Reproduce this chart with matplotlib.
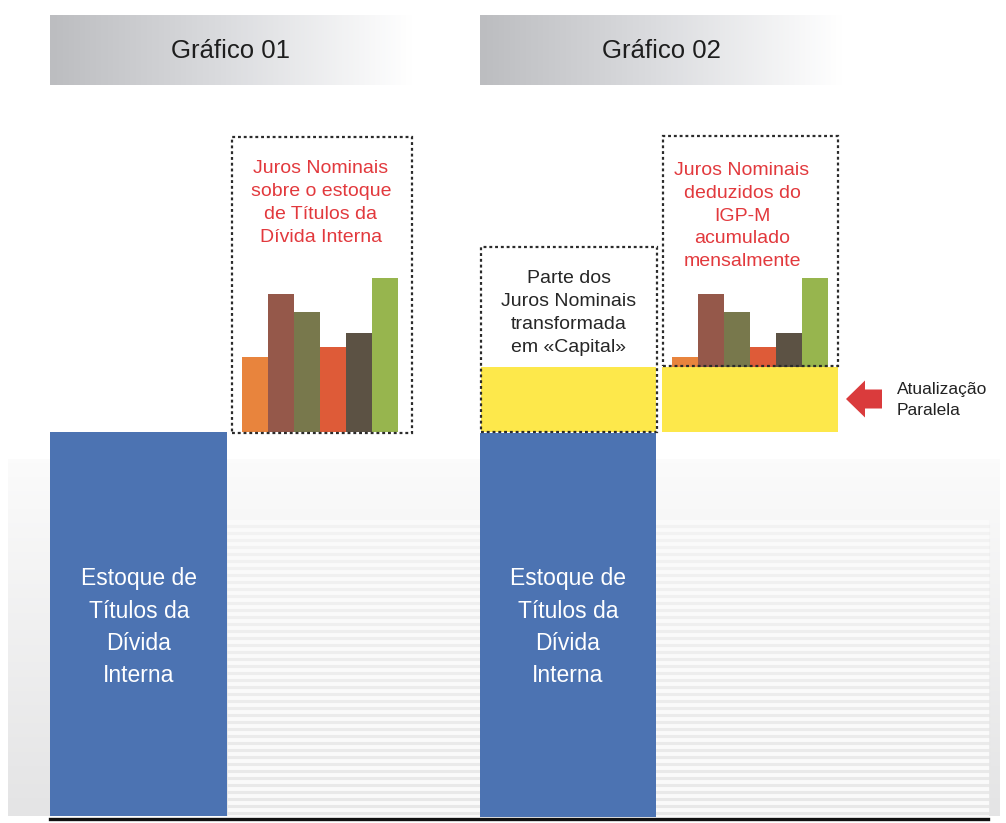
import numpy as np
import matplotlib.pyplot as plt
from matplotlib.colors import LinearSegmentedColormap
from matplotlib.patches import Rectangle, FancyArrow

# data (units = pixel heights)
stock = 384          # Estoque de Titulos da Divida Interna
igpm = 65            # Atualizacao paralela (IGP-M)
juros = [75, 138, 120, 85, 99, 154]
bar_colors = ['#e8843d', '#95584a', '#78784c', '#de5b38', '#5c5244', '#97b54e']

titles = ['Gráfico 01', 'Gráfico 02']
stock_label = 'Estoque de\nTítulos da\nDívida\nInterna'
juros_label1 = 'Juros Nominais\nsobre o estoque\nde Títulos da\nDívida Interna'
juros_label2 = 'Juros Nominais\ndeduzidos do\nIGP-M\nacumulado\nmensalmente'
capital_label = 'Parte dos\nJuros Nominais\ntransformada\nem «Capital»'
arrow_label = 'Atualização\nParalela'

plt.rcParams['font.family'] = ['Liberation Sans', 'DejaVu Sans']

fig = plt.figure(figsize=(10.06, 8.23), dpi=100)
ax = fig.add_axes([0, 0, 1, 1])
ax.set_xlim(0, 1006)
ax.set_ylim(0, 823)
ax.axis('off')

ground = 7
blue = '#4c73b2'
yellow = '#fde84b'
red_txt = '#e2393d'
dash = (0, (1.3, 1.3))

# background gradient + stripes
bg = LinearSegmentedColormap.from_list('bg', ['#e4e4e5', '#fbfbfb'])
ax.imshow(np.linspace(0, 1, 100).reshape(-1, 1), cmap=bg, aspect='auto',
          extent=(8, 1000, ground, 364), origin='lower', zorder=0)
ax.add_patch(Rectangle((228, ground), 760, 296, color='#fafafa', zorder=0.5))
for y in np.arange(ground + 3, 303, 7):
    a = 0.35 + 0.55 * (1 - y / 303)
    ax.plot([228, 988], [y, y], color='#e6e6e6', lw=2.2, alpha=a, zorder=0.6)

# header boxes
hdr = LinearSegmentedColormap.from_list('hdr', ['#bcbdc0', '#dcdde0', '#ffffff'])
for x0, t in zip([50, 480], titles):
    ax.imshow(np.linspace(0, 1, 200).reshape(1, -1), cmap=hdr, aspect='auto',
              extent=(x0, x0 + 363, 738, 808), zorder=1)
    ax.text(x0 + 181, 772, t, ha='center', va='center', fontsize=18.5, color='#1e1e1e', zorder=2)

bw = 26
top = ground + stock

# Grafico 01
ax.bar(50, stock, width=177, bottom=ground, align='edge', color=blue, zorder=2)
ax.text(139, 196, stock_label, ha='center', va='center', fontsize=16.5,
        color='white', linespacing=1.5, zorder=3)
xs1 = 242 + bw * np.arange(len(juros))
ax.bar(xs1, juros, width=bw, bottom=top, align='edge', color=bar_colors, zorder=2)
ax.add_patch(Rectangle((232, top - 1), 180, 296, fill=False, ec='#2b2b2b', lw=1.6, ls=dash, zorder=4))
ax.text(321, 620, juros_label1, ha='center', va='center', fontsize=14,
        color=red_txt, linespacing=1.45, zorder=3)

# Grafico 02
ax.bar(480, stock, width=176, bottom=ground - 1, align='edge', color=blue, zorder=2)
ax.text(568, 196, stock_label, ha='center', va='center', fontsize=16.5,
        color='white', linespacing=1.5, zorder=3)
ax.bar([481, 662], [igpm, igpm], width=[175, 176], bottom=top, align='edge', color=yellow, zorder=2)
xs2 = 672 + bw * np.arange(len(juros))
ax.bar(xs2, np.array(juros) - igpm, width=bw, bottom=top + igpm, align='edge', color=bar_colors, zorder=2)
ax.add_patch(Rectangle((481, top), 176, 185, fill=False, ec='#2b2b2b', lw=1.6, ls=dash, zorder=4))
ax.add_patch(Rectangle((663, top + igpm + 1), 175, 230, fill=False, ec='#2b2b2b', lw=1.6, ls=dash, zorder=4))
ax.text(569, 510, capital_label, ha='center', va='center', fontsize=14,
        color='#262626', linespacing=1.45, zorder=3)
ax.text(742, 607, juros_label2, ha='center', va='center', fontsize=14,
        color=red_txt, linespacing=1.45, zorder=3)

# arrow
ax.add_patch(FancyArrow(882, 424, -36, 0, width=19, head_width=37, head_length=19,
                        length_includes_head=True, color='#da3b3c', lw=0, zorder=3))
ax.text(897, 423, arrow_label, ha='left', va='center', fontsize=12.5,
        color='#222222', linespacing=1.42, zorder=3)

# ground line
ax.plot([50, 988], [4, 4], color='#111111', lw=2.4, zorder=3)

fig.savefig('out.png', dpi=100)
